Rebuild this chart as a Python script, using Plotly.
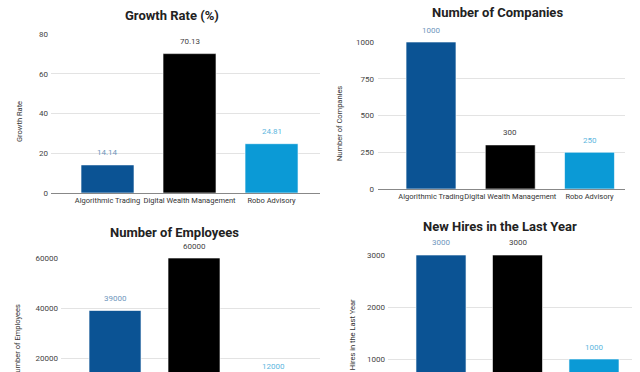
import plotly.graph_objects as go

categories = ["Algorithmic Trading", "Digital Wealth Management", "Robo Advisory"]
growth_rate = [14.14, 70.13, 24.81]
companies = [1000, 300, 250]
employees = [39000, 60000, 12000]
new_hires = [3000, 3000, 1000]

bar_colors = ["#0b5394", "#000000", "#0b9ad6"]
label_colors = ["#6f97bd", "#444444", "#5db6de"]

W, H = 640, 372
FONT = "Roboto, Arial, sans-serif"

panels = [
    dict(title="Growth Rate (%)", ytitle="Growth Rate", vals=growth_rate, yr=[0, 80], dt=20,
         px=(51, 320, 34, 193), xr=[-0.689, 2.591], gap=0.354, tpos=(172, 16), ypos=(20, 122), so=2,
         cut=False),
    dict(title="Number of Companies", ytitle="Number of Companies", vals=companies, yr=[0, 1000], dt=250,
         px=(378, 625, 42, 189), xr=[-0.669, 2.448], gap=0.37, tpos=(497, 13), ypos=(340, 124), so=3,
         cut=False),
    dict(title="Number of Employees", ytitle="Number of Employees", vals=employees, yr=[14400, 60000], dt=20000,
         px=(61, 320, 258, 372), xr=[-0.684, 2.595], gap=0.342, tpos=(174, 232), ypos=(17, 341), so=2,
         cut=True),
    dict(title="New Hires in the Last Year", ytitle="New Hires in the Last Year", vals=new_hires, yr=[750, 3000], dt=1000,
         px=(388, 632, 255, 372), xr=[-0.693, 2.497], gap=0.346, tpos=(500, 226), ypos=(352, 343), so=2,
         cut=True),
]

fig = go.Figure()
annotations = []
layout_axes = {}
for i, p in enumerate(panels, start=1):
    sx = "" if i == 1 else str(i)
    xa, ya = "x" + sx, "y" + sx
    x0, x1, yt, yb = p["px"]
    r0, r1 = p["yr"]
    fig.add_trace(go.Bar(
        x=categories, y=p["vals"], xaxis=xa, yaxis=ya, width=1 - p["gap"],
        marker=dict(color=bar_colors, line=dict(color="rgba(255,255,255,0.6)", width=1)),
        showlegend=False, hoverinfo="x+y",
    ))
    # value labels above each bar (position relative to the axis domain so
    # labels of bars that run past the visible range still show)
    for c, v, lc in zip(categories, p["vals"], label_colors):
        annotations.append(dict(
            x=c, xref=xa, y=(v - r0) / (r1 - r0), yref=ya + " domain",
            text=f"{v:g}", showarrow=False, xanchor="center", yanchor="middle",
            yshift=12, font=dict(family=FONT, size=8, color=lc),
        ))
    layout_axes["xaxis" + sx] = dict(
        domain=[x0 / W, x1 / W], anchor=ya, range=p["xr"], type="category",
        showgrid=False, showline=not p["cut"], linecolor="#888888", linewidth=1,
        showticklabels=not p["cut"], tickangle=0, automargin=False,
        ticks="", tickfont=dict(family=FONT, size=7.5, color="#333333"), fixedrange=True,
    )
    layout_axes["yaxis" + sx] = dict(
        domain=[1 - yb / H, 1 - yt / H], anchor=xa, range=p["yr"], tick0=0, dtick=p["dt"],
        showgrid=True, gridcolor="#e3e3e3", gridwidth=1, zeroline=False, showline=False,
        ticks="", ticklabelstandoff=p["so"], tickfont=dict(family=FONT, size=8, color="#444444"),
        tickformat="d", fixedrange=True, automargin=False,
    )
    annotations.append(dict(
        x=p["tpos"][0] / W, y=1 - p["tpos"][1] / H, xref="paper", yref="paper",
        text="<b>" + p["title"] + "</b>", showarrow=False, xanchor="center", yanchor="middle",
        font=dict(family=FONT, size=13, color="#222222"),
    ))
    annotations.append(dict(
        x=p["ypos"][0] / W, y=1 - p["ypos"][1] / H, xref="paper", yref="paper",
        text=p["ytitle"], showarrow=False, textangle=-90, xanchor="center", yanchor="middle",
        font=dict(family=FONT, size=7.5, color="#333333"),
    ))

fig.update_layout(
    width=W, height=H, margin=dict(l=0, r=0, t=0, b=0, pad=0, autoexpand=False),
    paper_bgcolor="white", plot_bgcolor="white",
    annotations=annotations, **layout_axes,
)

page_css = (
    "var s=document.createElement('style');"
    "s.textContent='html,body{margin:0;padding:0;overflow:hidden;}';"
    "document.head.appendChild(s);"
)

fig.write_html(
    "out.html",
    config={"displayModeBar": False},
    post_script=page_css,
)
